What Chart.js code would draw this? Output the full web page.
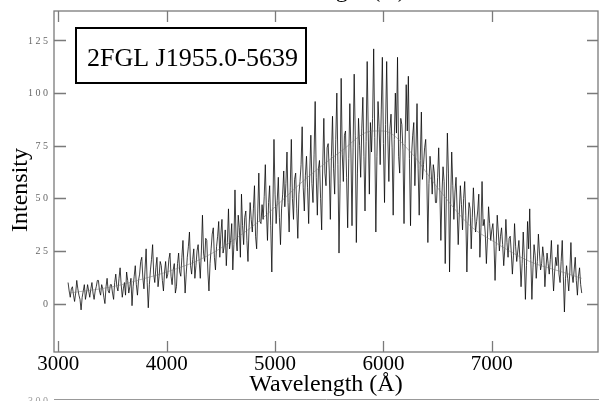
<!DOCTYPE html>
<html>
<head>
<meta charset="utf-8">
<script src="https://cdn.jsdelivr.net/npm/chart.js@4.4.1/dist/chart.umd.min.js"></script>
<style>
  body { margin: 0; background: #fff; }
  canvas { display: block; }
</style>
</head>
<body>
<canvas id="spec" width="599" height="401"></canvas>
<script>
// spectrum sampled every 10 A from 3090 A
const lambdaStart = 3090;
const lambdaStep = 10;
const intensity = [
  10, 6, 3, 7, 8, 4, 1, 5, 11, 7, 4, 2, -3, 3, 6, 9, 2, 5, 9, 6,
  3, 7, 10, 5, 2, 6, 8, 11, 11, 6, 4, 9, 7, 3, 0, 8, 12, 6, 5, 9,
  9, 5, 2, 10, 14, 8, 6, 12, 17, 9, 3, 7, 10, 4, 15, 11, 5, 8, 12, -1,
  8, 13, 18, 9, 4, 11, 14, 20, 22, 12, 7, 16, 26, 10, -2, 9, 16, 21, 28, 14,
  10, 17, 22, 8, 13, 20, 18, 11, 6, 15, 20, 12, 14, 21, 24, 13, 9, 16, 19, 5,
  8, 19, 24, 15, 13, 22, 30, 17, 5, 14, 22, 27, 34, 18, 14, 21, 26, 12, 18, 25,
  28, 20, 12, 25, 42, 24, 20, 31, 30, 15, 6, 19, 26, 33, 36, 22, 16, 27, 32, 39,
  22, 33, 40, 24, 27, 35, 18, 29, 45, 26, 30, 38, 16, 28, 54, 31, 25, 42, 36, 22,
  52, 37, 28, 41, 44, 30, 20, 36, 48, 40, 34, 45, 56, 32, 26, 43, 62, 39, 38, 47,
  40, 51, 66, 44, 30, 48, 56, 37, 15, 46, 78, 52, 38, 49, 60, 41, 28, 45, 52, 63,
  46, 57, 72, 48, 34, 55, 78, 50, 40, 59, 62, 45, 31, 52, 58, 66, 84, 55, 44, 61,
  70, 55, 38, 62, 80, 57, 48, 71, 96, 60, 42, 64, 68, 50, 35, 66, 88, 62, 56, 74,
  76, 63, 40, 70, 89, 64, 52, 78, 100, 66, 24, 57, 107, 71, 58, 80, 82, 60, 36, 69,
  95, 72, 37, 74, 109, 80, 29, 62, 88, 75, 60, 83, 98, 70, 44, 77, 115, 81, 52, 86,
  72, 88, 121, 79, 34, 70, 96, 84, 66, 92, 117, 76, 48, 85, 115, 80, 58, 83, 90, 74,
  42, 78, 100, 81, 117, 70, 62, 88, 85, 73, 38, 76, 104, 82, 108, 69, 37, 71, 80, 86,
  56, 72, 95, 64, 42, 68, 91, 59, 66, 74, 78, 61, 29, 57, 70, 63, 52, 66, 62, 48,
  48, 60, 74, 55, 30, 52, 65, 58, 19, 50, 81, 62, 15, 47, 72, 56, 40, 53, 60, 45,
  28, 43, 56, 47, 35, 50, 58, 42, 15, 38, 48, 45, 26, 41, 55, 44, 34, 39, 44, 52,
  22, 36, 58, 37, 40, 33, 19, 31, 46, 38, 30, 35, 38, 29, 11, 27, 42, 34, 25, 32,
  36, 28, 18, 26, 40, 29, 22, 31, 32, 24, 14, 23, 38, 27, 20, 25, 30, 21, 8, 19,
  34, 22, 2, 18, 39, 26, 45, 21, 2, 17, 28, 23, 12, 20, 33, 24, 16, 19, 27, 22,
  8, 17, 24, 19, 14, 21, 30, 16, 6, 15, 22, 18, 28, 14, 10, 20, 30, 13, -4, 12,
  18, 12, 6, 15, 29, 14, 10, 16, 22, 11, 4, 13, 17, 9, 5
];

// smooth continuum drawn through the spectrum
const contLambda = [3100, 3500, 3800, 4000, 4350, 4800, 5300, 5600, 5900, 6000, 6250, 6500, 6800, 7000, 7350, 7650, 7830];
const contValue = [5, 8, 12, 15, 22, 37, 60, 72, 82, 82, 72, 55, 37, 30, 20, 15, 12];

const xTicks = [3000, 4000, 5000, 6000, 7000];
const yTicks = [0, 25, 50, 75, 100, 125];
const objectName = "2FGL J1955.0-5639";

const serif = "'Liberation Serif', 'DejaVu Serif', serif";

const specPoints = intensity.map((v, i) => ({ x: lambdaStart + i * lambdaStep, y: v }));
const contPoints = contLambda.map((l, i) => ({ x: l, y: contValue[i] }));

// frame, inward ticks, y labels, y title and the name box
const framePlugin = {
  id: "frame",
  afterDraw(chart) {
    const { ctx, chartArea: a } = chart;
    const xs = chart.scales.x;
    const ys = chart.scales.y;
    ctx.save();
    ctx.strokeStyle = "#7a7a7a";
    ctx.lineWidth = 1.3;
    ctx.strokeRect(a.left, a.top, a.right - a.left, a.bottom - a.top);

    ctx.beginPath();
    xTicks.forEach((v) => {
      const px = Math.round(xs.getPixelForValue(v)) + 0.5;
      ctx.moveTo(px, a.bottom);
      ctx.lineTo(px, a.bottom - 11);
      ctx.moveTo(px, a.top);
      ctx.lineTo(px, a.top + 11);
    });
    yTicks.forEach((v) => {
      const py = Math.round(ys.getPixelForValue(v)) + 0.5;
      ctx.moveTo(a.left, py);
      ctx.lineTo(a.left + 12, py);
      ctx.moveTo(a.right, py);
      ctx.lineTo(a.right - 11, py);
    });
    ctx.stroke();

    // small spaced y labels
    ctx.fillStyle = "#666";
    ctx.font = "10px " + serif;
    ctx.letterSpacing = "2.5px";
    ctx.textAlign = "right";
    ctx.textBaseline = "middle";
    yTicks.forEach((v) => {
      ctx.fillText(String(v), 50.5, ys.getPixelForValue(v) + 0.5);
    });
    ctx.letterSpacing = "0px";

    // y title
    ctx.save();
    ctx.translate(21, 190);
    ctx.rotate(-Math.PI / 2);
    ctx.fillStyle = "#000";
    ctx.font = "24px " + serif;
    ctx.textAlign = "center";
    ctx.textBaseline = "middle";
    ctx.fillText("Intensity", 0, 0);
    ctx.restore();

    // name box
    ctx.strokeStyle = "#000";
    ctx.lineWidth = 2;
    ctx.strokeRect(76, 28, 230, 55);
    ctx.fillStyle = "#000";
    ctx.font = "26px " + serif;
    ctx.textAlign = "left";
    ctx.textBaseline = "alphabetic";
    ctx.fillText(objectName, 87, 66);

    // edges of the neighbouring panels
    ctx.fillStyle = "#000";
    ctx.font = "24px " + serif;
    ctx.textAlign = "center";
    ctx.fillText("Wavelength (Å)", 329, -3);
    ctx.strokeStyle = "#999";
    ctx.lineWidth = 1;
    ctx.beginPath();
    ctx.moveTo(54, 399.5);
    ctx.lineTo(599, 399.5);
    ctx.stroke();
    ctx.fillStyle = "#999";
    ctx.font = "10px " + serif;
    ctx.letterSpacing = "2.5px";
    ctx.textAlign = "right";
    ctx.textBaseline = "middle";
    ctx.fillText("300", 50.5, 401);
    ctx.restore();
  },
};

new Chart(document.getElementById("spec"), {
  type: "line",
  data: {
    datasets: [
      {
        data: contPoints,
        borderColor: "rgba(110,110,110,0.6)",
        borderWidth: 0.8,
        pointRadius: 0,
        cubicInterpolationMode: "monotone",
        order: 0,
      },
      {
        data: specPoints,
        borderColor: "rgba(0,0,0,0.95)",
        borderWidth: 0.8,
        pointRadius: 0,
        tension: 0,
        order: 1,
      },
    ],
  },
  options: {
    responsive: false,
    animation: false,
    devicePixelRatio: 1,
    layout: { padding: { left: 0, right: 1, top: 11, bottom: 0 } },
    plugins: { legend: { display: false }, tooltip: { enabled: false } },
    scales: {
      x: {
        type: "linear",
        min: 2960,
        max: 7980,
        afterBuildTicks: (s) => { s.ticks = xTicks.map((v) => ({ value: v })); },
        afterFit: (s) => { s.height = 49; },
        grid: { display: false, drawTicks: false },
        border: { display: false },
        ticks: {
          color: "#000",
          padding: 0,
          maxRotation: 0,
          font: { family: serif, size: 21 },
          callback: (v) => String(v),
        },
        title: {
          display: true,
          text: "Wavelength (Å)",
          color: "#000",
          font: { family: serif, size: 24 },
          padding: { top: 0, bottom: 2 },
        },
      },
      y: {
        min: -23,
        max: 139,
        afterBuildTicks: (s) => { s.ticks = yTicks.map((v) => ({ value: v })); },
        afterFit: (s) => { s.width = 54; },
        grid: { display: false, drawTicks: false },
        border: { display: false },
        ticks: { display: false },
      },
    },
  },
  plugins: [framePlugin],
});
</script>
</body>
</html>
